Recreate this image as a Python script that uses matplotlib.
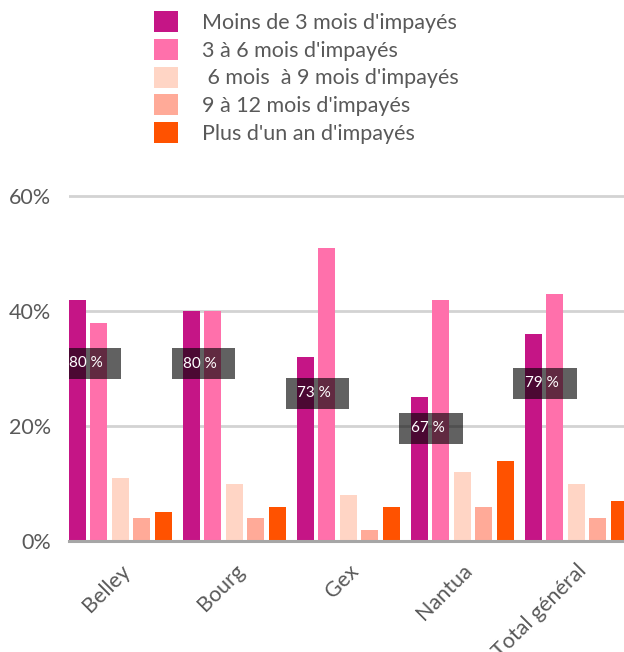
import matplotlib.pyplot as plt
import numpy as np
from matplotlib.patches import Rectangle, Patch

sites = ["Belley", "Bourg", "Gex", "Nantua", "Total général"]
series = ["Moins de 3 mois d'impayés", "3 à 6 mois d'impayés",
          " 6 mois  à 9 mois d'impayés", "9 à 12 mois d'impayés",
          "Plus d'un an d'impayés"]
moins_3 = [42, 40, 32, 25, 36]
de_3_a_6 = [38, 40, 51, 42, 43]
de_6_a_9 = [11, 10, 8, 12, 10]
de_9_a_12 = [4, 4, 2, 6, 4]
plus_1an = [5, 6, 6, 14, 7]
taux = [80, 80, 73, 67, 79]
taux_y = [30.9, 30.8, 25.7, 19.6, 27.4]

colors = ['#C51586', '#FF70AB', '#FFD5C5', '#FFAA98', '#FF5200']
text_col = '#595959'

plt.rcParams['font.family'] = ['Lato', 'DejaVu Sans']

fig = plt.figure(figsize=(6.24, 6.52), dpi=100)
ax = fig.add_axes([69 / 624, 1 - 541 / 652, 1 - 69 / 624, (541 - 190.25) / 652])

x = np.arange(len(sites))
step = 21.5 / 114
width = 17 / 114
data = [moins_3, de_3_a_6, de_6_a_9, de_9_a_12, plus_1an]
for i, (vals, c) in enumerate(zip(data, colors)):
    ax.bar(x + (i - 2) * step, vals, width, color=c, zorder=2)

for xi, t, ty in zip(x, taux, taux_y):
    cx = xi - 0.27
    ax.add_patch(Rectangle((cx - 0.28, ty - 2.7), 0.56, 5.4, facecolor='black',
                           alpha=0.62, edgecolor='none', zorder=3))
    ax.text(cx - 0.03, ty, f"{t} %", color='white', fontsize=11, ha='center',
            va='center', zorder=4)

ax.set_xlim(-0.45, 4.42)
ax.set_ylim(0, 61)
ax.set_yticks([0, 20, 40, 60])
ax.set_yticklabels(['0%', '20%', '40%', '60%'])
ax.yaxis.grid(True, color='#D3D3D3', linewidth=2, zorder=0)
ax.set_axisbelow(True)
for s in ['top', 'right', 'left']:
    ax.spines[s].set_visible(False)
ax.spines['bottom'].set_color('#A6A6A6')
ax.spines['bottom'].set_linewidth(2.2)
ax.spines['bottom'].set_zorder(5)
ax.tick_params(axis='y', length=0, pad=13, labelsize=15.5, labelcolor=text_col)
ax.tick_params(axis='x', length=0, pad=14, labelsize=15.5, labelcolor=text_col)
ax.set_xticks(x)
ax.set_xticklabels(sites, rotation=45, ha='right', rotation_mode='anchor')

handles = [Patch(facecolor=c, edgecolor='none') for c in colors]
fig.legend(handles, series, loc='upper left', bbox_to_anchor=(154 / 624, 1 - 11 / 652),
           frameon=False, fontsize=15.5, labelcolor=text_col, handlelength=1.12,
           handleheight=1.12, handletextpad=1.1, labelspacing=0.28, borderpad=0,
           borderaxespad=0)

plt.savefig('out.png', dpi=100)
